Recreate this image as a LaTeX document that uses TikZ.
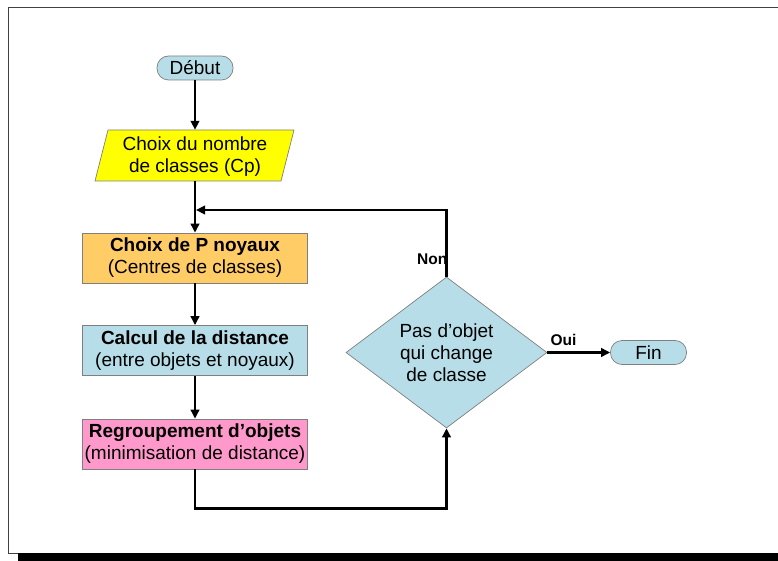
\documentclass[tikz,border=0pt]{standalone}
\usepackage{fontspec}
\setmainfont{Liberation Sans}
\usetikzlibrary{shapes.geometric,arrows.meta,calc}
\definecolor{tblue}{HTML}{B7DEE8}
\definecolor{orange1}{HTML}{FFCC66}
\definecolor{pink1}{HTML}{FF99CC}
\definecolor{yellow1}{HTML}{FFFF00}
\definecolor{edge}{HTML}{7F7F7F}
\begin{document}
\begin{tikzpicture}[x=1pt,y=-1pt,
  txt/.style={font=\fontsize{19}{22}\selectfont},
  box/.style={txt, draw=edge, line width=0.7pt, minimum width=225pt, minimum height=50pt, align=center, inner sep=0pt},
  term/.style={txt, draw=edge, line width=0.7pt, rounded corners=11.5pt, fill=tblue, minimum height=24pt, minimum width=76pt, inner sep=0pt},
  conn/.style={line width=2.4pt, -{Triangle[length=9pt,width=8.5pt]}},
  lbl/.style={font=\bfseries\fontsize{15.5}{17}\selectfont}
]
\useasboundingbox (0,0) rectangle (778,561);
% frame
\draw[line width=1pt, black!75] (778,7.5) -- (8,7.5) -- (8,553) -- (18,553);
\fill[black] (18,553) rectangle (778,561);

% nodes
\node[term] (debut) at (195,68) {Début};
\fill[yellow1, draw=edge, line width=0.7pt] (108,130) -- (294,130) -- (281,181) -- (95,181) -- cycle;
\node[txt, minimum width=186pt, minimum height=51pt, inner sep=0pt] (choix) at (195,155.5) {\raisebox{-1.5pt}[\height][\depth]{\begin{tabular}{@{}c@{}}Choix du nombre\\de classes (Cp)\end{tabular}}};
\node[box, fill=orange1] (noyaux) at (195,258) {\textbf{Choix de P noyaux}\\(Centres de classes)};
\node[box, fill=tblue] (calcul) at (195,350.5) {\textbf{Calcul de la distance}\\(entre objets et noyaux)};
\node[box, fill=pink1] (regroup) at (195,444) {\textbf{Regroupement d’objets}\\(minimisation de distance)};
\node[txt, diamond, draw=edge, line width=0.7pt, fill=tblue, aspect=1.33, minimum width=201pt, minimum height=151pt, inner sep=0pt, align=center] (dec) at (446.5,352.5) {Pas d’objet\\qui change\\de classe};
\node[term] (fin) at (648.5,352.5) {Fin};

% connectors
\draw[conn] (debut.south) -- (choix.north);
\draw[conn] (choix.south) -- (noyaux.north);
\draw[conn] (noyaux.south) -- (calcul.north);
\draw[conn] (calcul.south) -- (regroup.north);
\coordinate (join) at (196,210);
\draw[conn] (dec.north) |- (join);
\draw[conn] (regroup.south) -- ++(0,39) -| (dec.south);
\draw[conn] (dec.east) -- (fin.west);

% labels
\node[lbl, anchor=east, inner sep=0pt] (non) at (447.5,259) {Non};
\node[lbl, inner sep=0pt] (oui) at (563.5,340) {Oui};
\end{tikzpicture}
\end{document}
